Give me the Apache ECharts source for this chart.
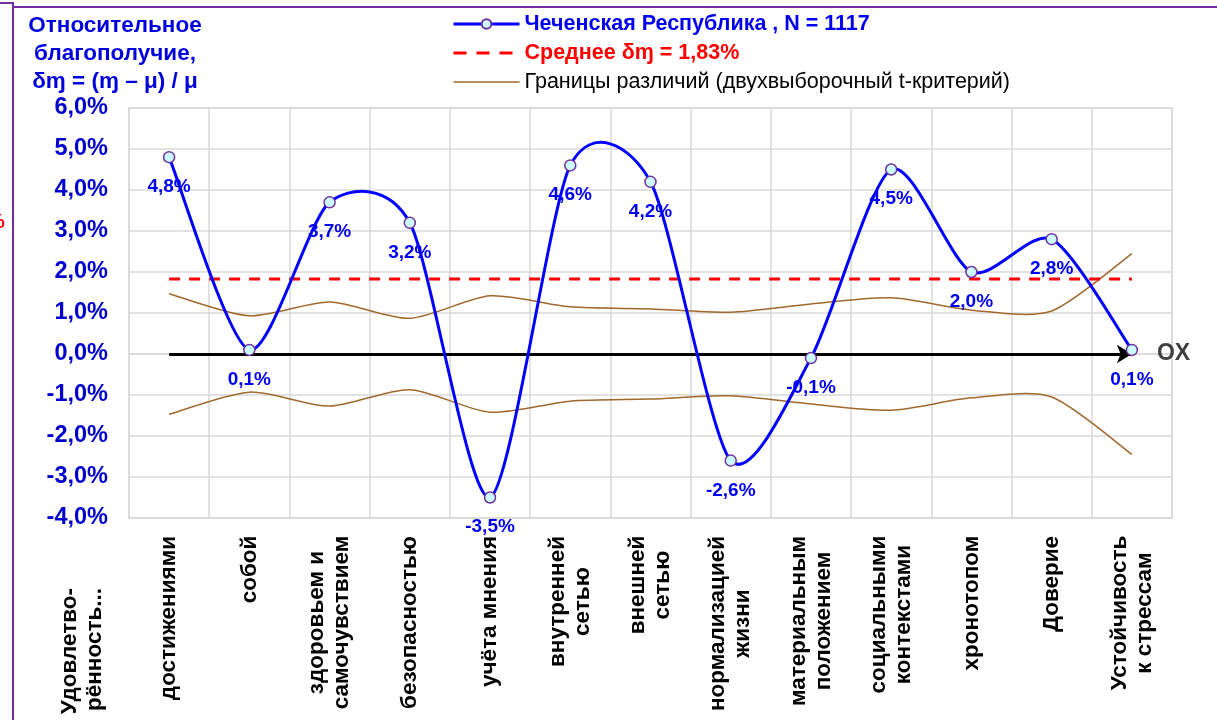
<!DOCTYPE html>
<html>
<head>
<meta charset="utf-8">
<script src="https://cdn.jsdelivr.net/npm/echarts@6/dist/echarts.min.js"></script>
<style>html,body{margin:0;padding:0;background:#fff;}#c{width:1217px;height:720px;}</style>
</head>
<body>
<div id="c"></div>
<script>
const categories = ['достижениями','собой','здоровьем и\nсамочувствием','безопасностью','учёта мнения','внутренней\nсетью','внешней\nсетью','нормализацией\nжизни','материальным\nположением','социальными\nконтекстами','хронотопом','Доверие','Устойчивость\nк стрессам'];
const values = [4.8, 0.1, 3.7, 3.2, -3.5, 4.6, 4.2, -2.6, -0.1, 4.5, 2.0, 2.8, 0.1];
const meanValue = 1.83;
const upperBound = [1.47, 0.93, 1.27, 0.87, 1.42, 1.15, 1.10, 1.02, 1.22, 1.37, 1.07, 1.05, 2.45];
const lowerBound = [-1.47, -0.93, -1.27, -0.87, -1.42, -1.15, -1.10, -1.02, -1.22, -1.37, -1.07, -1.05, -2.45];
const yTicks = {min: -4, max: 6, step: 1};
const seriesNames = ['Чеченская Республика , N = 1117', 'Среднее δɱ = 1,83%', 'Границы различий (двухвыборочный t-критерий)'];

const FONT = "'Liberation Sans', Arial, sans-serif";
const NARROW = "'Liberation Sans Narrow', 'Arial Narrow', 'Liberation Sans', sans-serif";
const XFS = 22.5;
const fmt = v => v.toFixed(1).replace('.', ',') + '%';

// centre the lines of multi-line category labels (as the original does)
const mctx = document.createElement('canvas').getContext('2d');
mctx.font = 'bold ' + XFS + 'px ' + FONT;
const rich = {};
categories.forEach((c, i) => {
  const w = Math.max(...c.split('\n').map(l => mctx.measureText(l).width));
  rich['c' + i] = {width: Math.ceil(w) + 1, align: 'center', fontSize: XFS, fontWeight: 'bold', fontFamily: FONT, color: '#000', lineHeight: 25};
});
const labelFmt = (val, idx) => val.split('\n').map(l => '{c' + idx + '|' + l + '}').join('\n');

// Excel-like smoothing drawn through the chart's own scale (api.coord)
function smoothPath(pts, k) {
  let d = 'M' + pts[0][0] + ' ' + pts[0][1];
  for (let i = 0; i < pts.length - 1; i++) {
    const p0 = pts[i - 1] || pts[i], p1 = pts[i], p2 = pts[i + 1], p3 = pts[i + 2] || pts[i + 1];
    const c1 = [p1[0] + (p2[0] - p0[0]) * k, p1[1] + (p2[1] - p0[1]) * k];
    const c2 = [p2[0] - (p3[0] - p1[0]) * k, p2[1] - (p3[1] - p1[1]) * k];
    d += ' C' + c1[0] + ' ' + c1[1] + ' ' + c2[0] + ' ' + c2[1] + ' ' + p2[0] + ' ' + p2[1];
  }
  return d;
}
function curveSeries(name, arrays, color, width, z) {
  return {
    name: name, type: 'custom', silent: true, z: z, data: [[0, 0]],
    renderItem: (params, api) => ({
      type: 'group',
      children: arrays.map(arr => ({
        type: 'path',
        shape: {pathData: smoothPath(arr.map((v, i) => api.coord([i, v])), 0.13)},
        style: {fill: 'none', stroke: color, lineWidth: width}
      }))
    })
  };
}

const chart = echarts.init(document.getElementById('c'));
chart.setOption({
  animation: false,
  backgroundColor: '#fff',
  grid: {left: 129, right: 45, top: 108, bottom: 202, show: true, borderColor: '#d9d9d9', borderWidth: 1.5},
  legend: {
    orient: 'vertical', left: 447, top: 8, itemWidth: 66, itemHeight: 12, itemGap: 7,
    data: [
      {name: seriesNames[0], textStyle: {color: '#0000ee', fontWeight: 'bold'}, lineStyle: {color: '#0000ff', width: 3, opacity: 1}},
      {name: seriesNames[1], textStyle: {color: '#ff0000', fontWeight: 'bold'}, itemStyle: {opacity: 0}, lineStyle: {color: '#ff0000', width: 3, type: [13, 10], opacity: 1}},
      {name: seriesNames[2], textStyle: {color: '#000', fontWeight: 'normal'}, itemStyle: {opacity: 0}, lineStyle: {color: '#a0682c', width: 1.5, opacity: 1}}
    ],
    textStyle: {fontFamily: FONT, fontSize: 21.5}
  },
  xAxis: {
    type: 'category', data: categories, boundaryGap: true,
    axisLine: {show: true, lineStyle: {color: '#d9d9d9', width: 1.5}},
    axisTick: {show: false},
    splitLine: {show: true, lineStyle: {color: '#d9d9d9', width: 1.5}},
    axisLabel: {interval: 0, rotate: 90, margin: 17, color: '#000', fontWeight: 'bold', fontSize: XFS, fontFamily: FONT, lineHeight: 25, formatter: labelFmt, rich: rich}
  },
  yAxis: {
    type: 'value', min: yTicks.min, max: yTicks.max, interval: yTicks.step,
    axisLine: {show: false}, axisTick: {show: false},
    splitLine: {show: true, lineStyle: {color: '#d9d9d9', width: 1.5}},
    axisLabel: {formatter: fmt, margin: 21, color: '#0000cc', fontWeight: 'bold', fontSize: 23.5, fontFamily: FONT}
  },
  graphic: [
    {type: 'text', x: 115, y: 12, z: 10, style: {text: 'Относительное\nблагополучие,\nδɱ = (ɱ – μ) / μ', textAlign: 'center', fill: '#0000dd', font: 'bold 22.5px ' + FONT, lineHeight: 28}},
    {type: 'text', x: 82, y: 588, rotation: Math.PI / 2, style: {text: 'Удовлетво-\nрённость...', textAlign: 'right', textVerticalAlign: 'middle', fill: '#000', font: 'bold ' + XFS + 'px ' + FONT, lineHeight: 25}},
    {type: 'text', x: -13, y: 212, style: {text: '%', fill: '#ff0000', font: 'bold 20px ' + FONT}},
    {type: 'polyline', shape: {points: [[0, 3], [13, 3], [13, 720]]}, style: {stroke: '#7030a0', lineWidth: 2, fill: null}},
    {type: 'polyline', shape: {points: [[13, 7], [1217, 7]]}, style: {stroke: '#7030a0', lineWidth: 2, fill: null}}
  ],
  series: [
    {
      name: seriesNames[2], type: 'line', data: upperBound, symbol: 'none', z: 2,
      lineStyle: {color: '#a0682c', width: 1.5, opacity: 0}, itemStyle: {color: '#a0682c'}
    },
    curveSeries('bounds', [upperBound, lowerBound], '#a0682c', 1.5, 2),
    {
      name: seriesNames[1], type: 'line', data: categories.map(() => meanValue), symbol: 'none', z: 3,
      lineStyle: {color: '#ff0000', width: 3, type: [11, 9]}, itemStyle: {color: '#ff0000'}
    },
    {
      name: 'axisArrow', type: 'line', data: [], z: 4,
      markLine: {
        silent: true, symbol: ['none', 'arrow'], symbolSize: [14, 15], precision: 1,
        lineStyle: {color: '#000', width: 3, type: 'solid'},
        label: {show: true, position: 'end', formatter: 'OX', distance: 25, color: '#404040', fontSize: 23, fontWeight: 'bold', fontFamily: FONT},
        data: [[{coord: [0, 0]}, {coord: [categories.length - 1, 0]}]]
      }
    },
    curveSeries('mainCurve', [values], '#0000ff', 3, 5),
    {
      name: seriesNames[0], type: 'line', data: values, z: 6,
      symbol: 'circle', symbolSize: 11,
      lineStyle: {color: '#0000ff', width: 3, opacity: 0},
      itemStyle: {color: '#ccffff', borderColor: '#7030a0', borderWidth: 1.5},
      label: {show: true, position: 'bottom', distance: 14, formatter: p => fmt(p.value), color: '#0000ee', fontWeight: 'bold', fontSize: 19, fontFamily: NARROW}
    }
  ]
});
</script>
</body>
</html>
